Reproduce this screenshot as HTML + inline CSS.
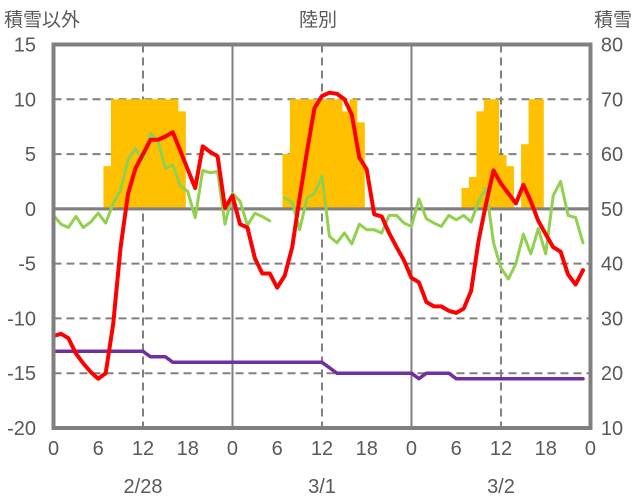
<!DOCTYPE html>
<html><head><meta charset="utf-8"><style>
html,body{margin:0;padding:0;background:#fff;}
svg{display:block;font-family:"Liberation Sans","Noto Sans CJK JP",sans-serif;}
</style></head><body>
<svg id="chart" width="636" height="501" viewBox="0 0 636 501">
<g id="grid"></g>
<g id="bars"></g>
<g id="lines"></g>
<g id="axes"></g>
<text x="4" y="26" font-size="19" fill="#595959">積雪以外</text>
<text x="318" y="26" font-size="19" fill="#595959" text-anchor="middle">陸別</text>
<text x="632" y="26" font-size="19" fill="#595959" text-anchor="end">積雪</text>
</svg>
<script>
const leftTicks=[15,10,5,0,-5,-10,-15,-20];
const rightTicks=[80,70,60,50,40,30,20,10];
const hourLabels=[0,6,12,18,0,6,12,18,0,6,12,18,0];
const dateLabels=["2/28","3/1","3/2"];
const redSeries=[-11.6,-11.4,-11.8,-13.2,-14.1,-14.9,-15.5,-15,-10.5,-3.5,1.4,3.7,5,6.3,6.3,6.6,7,5.3,3.6,1.9,5.7,5.2,4.8,0.1,
1.2,-1.4,-1.7,-4.5,-5.9,-5.9,-7.2,-6.1,-3.5,1,5.3,9.2,10.3,10.6,10.5,10,8.6,4.7,3.6,-0.5,-0.7,-2.2,-3.5,-4.7,
-6.3,-6.7,-8.5,-8.9,-8.9,-9.3,-9.5,-9.1,-7.5,-2.9,0.5,3.5,2.3,1.4,0.5,2.2,0.7,-1.1,-2.3,-3.5,-3.9,-6,-6.9,-5.6];
const greenSeries=[-0.6,-1.4,-1.7,-0.7,-1.7,-1.2,-0.4,-1.3,0.5,1.7,4.5,5.5,4.5,6.9,6.2,3.7,4,2.1,1.6,-0.8,3.5,3.3,3.4,-1.4,
1.4,0.7,-1.5,-0.4,-0.7,-1.1,null,1,0.6,-1.9,1,1.4,3,-2.5,-3.1,-2.2,-3.2,-1.4,-1.9,-1.9,-2.2,-0.6,-0.6,-1.3,
-1.6,0.9,-0.9,-1.3,-1.6,-0.6,-1,-0.6,-1.2,0.7,1.9,-3.1,-5.4,-6.4,-5,-2.3,-4.1,-1.8,-4.1,1.2,2.5,-0.6,-0.8,-3.1];
const snowDepth=[24,24,24,24,24,24,24,24,24,24,24,24,24,23,23,23,22,22,22,22,22,22,22,22,
22,22,22,22,22,22,22,22,22,22,22,22,22,21,20,20,20,20,20,20,20,20,20,20,
20,19,20,20,20,20,19,19,19,19,19,19,19,19,19,19,19,19,19,19,19,19,19,19];
const barHours=[7,8,9,10,11,12,13,14,15,16,17,31,32,33,34,35,36,37,38,39,40,41,55,56,57,58,59,60,61,63,64,65];
const barValues=[3.9,10,10,10,10,10,10,10,10,10,8.9,5,10,10,10,10,10,10,10,8.9,10,7.9,1.9,2.9,8.9,10,10,4.9,3.9,5.9,10,10];

const NS="http://www.w3.org/2000/svg";
const X0=53.5,HW=7.458,TOP=44.5,BOT=428;
function x(h){return X0+h*HW;}
function yL(v){return TOP+(15-v)*(BOT-TOP)/35;}
function yR(v){return TOP+(80-v)*(BOT-TOP)/70;}
function mk(tag,attrs,parent){const e=document.createElementNS(NS,tag);for(const k in attrs)e.setAttribute(k,attrs[k]);parent.appendChild(e);return e;}
const grid=document.getElementById('grid'),bars=document.getElementById('bars'),lines=document.getElementById('lines'),axes=document.getElementById('axes');
const X1=x(72);
leftTicks.forEach(v=>{
  if(v===15||v===-20)return;
  const g=mk('line',{x1:X0,x2:X1,y1:yL(v),y2:yL(v),stroke:'#808080','stroke-width':v===0?3:2,'stroke-dasharray':v===0?'none':'8,5'},grid);
  
  
});
for(let h=12;h<72;h+=12){
  const day=h%24===0;
  const g=mk('line',{x1:x(h),x2:x(h),y1:TOP,y2:BOT,stroke:'#808080','stroke-width':2,'stroke-dasharray':day?'none':'8,5'},grid);
  
  
}
barHours.forEach((h,i)=>{
  const v=barValues[i];
  const r=mk('rect',{x:x(h-0.3),width:HW+0.3,y:yL(v),height:yL(0)-yL(v),fill:'#FFC000'},bars);
  
  
});
const z=mk('line',{x1:X0,x2:X1,y1:yL(0),y2:yL(0),stroke:'#808080','stroke-width':3},bars);


function path(arr,fy,color,w,name){
  let d='',pen=false;
  arr.forEach((v,i)=>{if(v===null){pen=false;return;}d+=(pen?'L':'M')+x(i).toFixed(1)+','+fy(v).toFixed(1);pen=true;});
  const p=mk('path',{d:d,fill:'none',stroke:color,'stroke-width':w,'stroke-linejoin':'round','stroke-linecap':'round'},lines);
  
  
}
path(greenSeries,yL,'#92D050',3,'green-series-line');
path(snowDepth,yR,'#7030A0',3.5,'snow-depth-line');
path(redSeries,yL,'#FF0000',4,'temperature-line');
const b=mk('rect',{x:X0,y:TOP,width:X1-X0,height:BOT-TOP,fill:'none',stroke:'#808080','stroke-width':4},axes);


leftTicks.forEach(v=>{
  const t=mk('text',{x:36,y:yL(v)+7,'font-size':20,fill:'#595959','text-anchor':'end'},axes);t.textContent=v;
  
  
});
rightTicks.forEach(v=>{
  const t=mk('text',{x:612,y:yR(v)+7,'font-size':20,fill:'#595959','text-anchor':'middle'},axes);t.textContent=v;
  
  
});
hourLabels.forEach((v,i)=>{
  const t=mk('text',{x:x(i*6),y:455,'font-size':20,fill:'#595959','text-anchor':'middle'},axes);t.textContent=v;
  
  
});
dateLabels.forEach((v,i)=>{
  const t=mk('text',{x:x(i*24+12),y:493,'font-size':20,fill:'#595959','text-anchor':'middle'},axes);t.textContent=v;
  
  
});
</script>
</body></html>
